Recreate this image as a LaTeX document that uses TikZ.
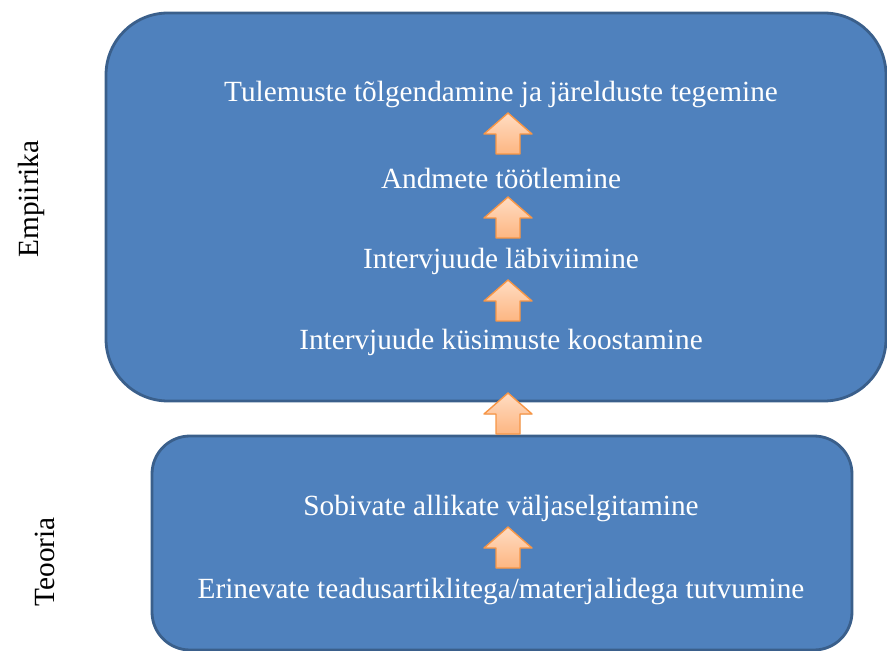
\documentclass[tikz,border=0pt]{standalone}
\usepackage{fontspec}
\setmainfont{Liberation Serif}
\usetikzlibrary{shadows}
\definecolor{boxblue}{HTML}{4F81BD}
\definecolor{boxedge}{HTML}{3A5F8B}
\definecolor{arrowedge}{HTML}{F79646}
\definecolor{arrowtop}{HTML}{FFDCC2}
\definecolor{arrowbot}{HTML}{FDB682}
\tikzset{
  stage/.style={font=\fontsize{25}{30}\selectfont, text=white, inner sep=0pt},
  side/.style={font=\fontsize{25}{30}\selectfont, rotate=90, inner sep=0pt},
  blockbox/.style={draw=boxedge, fill=boxblue, line width=2.4pt},
  arrowbody/.style={draw=arrowedge, line width=1.2pt, line join=round,
    top color=arrowtop, bottom color=arrowbot,
    drop shadow={opacity=.2, shadow xshift=.6pt, shadow yshift=-.8pt}},
  uparrow/.pic={
    \draw[arrowbody] (0,0) -- (24,21) -- (12,21) -- (12,41) -- (-12,41)
      -- (-12,21) -- (-24,21) -- cycle;
  }
}
\begin{document}
\begin{tikzpicture}[x=0.03cm, y=-0.03cm]
  \useasboundingbox (0,0) rectangle (887,651);
  \begin{scope}
    \clip (0,0) rectangle (887,651);
    % boxes
    \draw[blockbox, rounded corners=62*0.03cm] (106,13) rectangle (886,401);
    \draw[blockbox, rounded corners=38*0.03cm] (152,436) rectangle (852,650);
  \end{scope}
  % empirical part
  \node[stage] (tulem) at (501,95) {Tulemuste tõlgendamine ja järelduste tegemine};
  \node[stage] (andmed) at (501,178) {Andmete töötlemine};
  \node[stage] (labivi) at (501,261) {Intervjuude läbiviimine};
  \node[stage] (kusim) at (501,342) {Intervjuude küsimuste koostamine};
  % theory part
  \node[stage] (sobiv) at (501,508) {Sobivate allikate väljaselgitamine};
  \node[stage] (erinev) at (501,591) {Erinevate teadusartiklitega/materjalidega tutvumine};
  \node[side] (empiir) at (31,199) {Empiirika};
  \node[side] (teooria) at (45,562) {Teooria};
  % arrows
  \pic at (508,113) {uparrow};
  \pic at (508,197) {uparrow};
  \pic at (508,280) {uparrow};
  \pic at (508,393) {uparrow};
  \pic at (508,527) {uparrow};
\end{tikzpicture}
\end{document}
